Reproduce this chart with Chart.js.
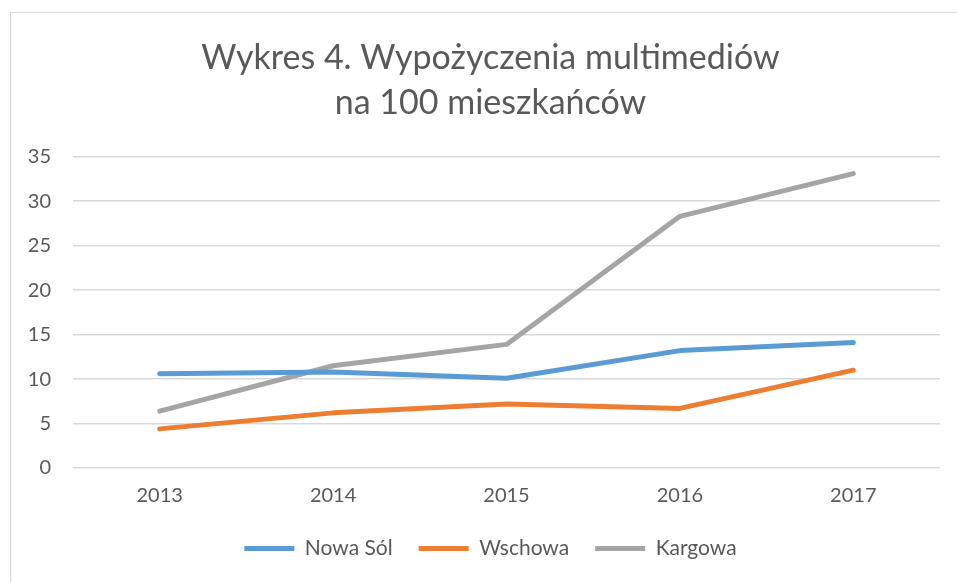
<!DOCTYPE html>
<html>
<head>
<meta charset="utf-8">
<script src="https://cdn.jsdelivr.net/npm/chart.js@4"></script>
<style>
  html, body { margin: 0; padding: 0; background: #fff; overflow: hidden; }
  #wrap { position: relative; width: 957px; height: 582px; overflow: hidden; }
  #chart { position: absolute; left: 0; top: 0; }
  #frame { position: absolute; left: 10px; top: 12px; right: -5px; bottom: -5px;
           border-left: 1px solid #d9d9d9; border-top: 1px solid #d9d9d9; pointer-events: none; }
</style>
</head>
<body>
<div id="wrap">
  <canvas id="chart" width="961" height="582"></canvas>
  <div id="frame"></div>
</div>
<script>
const years = ['2013', '2014', '2015', '2016', '2017']
const nowaSol = [10.6, 10.8, 10.1, 13.2, 14.1]
const wschowa = [4.4, 6.2, 7.2, 6.7, 11.0]
const kargowa = [6.4, 11.5, 13.9, 28.3, 33.1]
const yTicks = [0, 5, 10, 15, 20, 25, 30, 35]

const textColor = '#595959'
const fontFamily = 'Lato, "Open Sans", sans-serif'

function series(label, data, color) {
    return {
        label: label,
        data: data,
        borderColor: color,
        backgroundColor: color,
        borderWidth: 5,
        borderCapStyle: 'round',
        borderJoinStyle: 'round',
        pointRadius: 0,
        pointHoverRadius: 0,
        tension: 0
    }
}

new Chart(document.getElementById('chart'), {
    type: 'line',
    data: {
        labels: years,
        datasets: [
            series('Nowa Sól', nowaSol, '#5b9bd5'),
            series('Wschowa', wschowa, '#ed7d31'),
            series('Kargowa', kargowa, '#a5a5a5')
        ]
    },
    options: {
        responsive: false,
        animation: false,
        layout: { padding: { left: 20, right: 0, top: 36, bottom: 13 } },
        plugins: {
            title: {
                display: true,
                text: ['Wykres 4. Wypożyczenia multimediów', 'na 100 mieszkańców'],
                color: textColor,
                font: { family: fontFamily, size: 34, weight: 'normal', lineHeight: 1.32 },
                padding: { top: 0, bottom: 31 }
            },
            legend: {
                position: 'bottom',
                labels: {
                    color: textColor,
                    font: { family: fontFamily, size: 21 },
                    usePointStyle: true,
                    pointStyle: 'line',
                    pointStyleWidth: 50,
                    padding: 26
                }
            },
            tooltip: { enabled: false }
        },
        scales: {
            x: {
                offset: true,
                grid: { display: false, drawTicks: false },
                border: { display: false },
                afterFit: axis => { axis.height -= 12 },
                ticks: { color: textColor, font: { family: fontFamily, size: 20 }, padding: 16 }
            },
            y: {
                min: 0,
                max: 35,
                afterBuildTicks: axis => { axis.ticks = yTicks.map(v => ({ value: v })) },
                afterFit: axis => { axis.width = 53 },
                grid: { color: '#d9d9d9', lineWidth: 1.5, drawTicks: false },
                border: { display: false },
                ticks: { color: textColor, font: { family: fontFamily, size: 20 }, padding: 22 }
            },
            // empty right-hand margin so the plot ends where the original does
            yRight: {
                position: 'right',
                grid: { display: false, drawTicks: false },
                border: { display: false },
                ticks: { display: false },
                afterFit: axis => { axis.width = 21 }
            }
        }
    }
})
</script>
</body>
</html>
